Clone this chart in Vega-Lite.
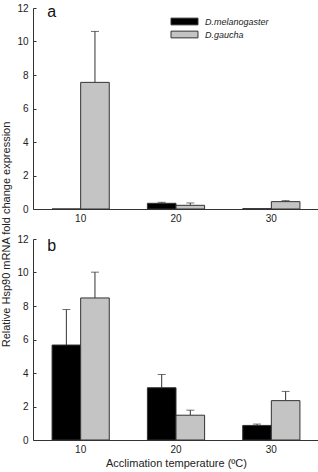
{
  "$schema": "https://vega.github.io/schema/vega-lite/v6.json",
  "padding": {"left": 0, "top": 3, "right": 2, "bottom": 1},
  "bounds": "flush",
  "spacing": 30,
  "config": {
    "font": "Liberation Sans",
    "view": {"stroke": null},
    "axis": {
      "domainColor": "#333",
      "tickColor": "#333",
      "labelColor": "#222",
      "titleColor": "#222",
      "labelFontSize": 10,
      "titleFontSize": 11,
      "titleFontWeight": "normal",
      "grid": false
    },
    "axisY": {
      "tickSize": -3,
      "labelPadding": 8,
      "labelOverlap": false,
      "tickCount": 7
    }
  },
  "datasets": {
    "panelA": [
      {"temp": "10", "species": "D.melanogaster", "value": 0, "upper": null},
      {"temp": "10", "species": "D.gaucha", "value": 7.56, "upper": 10.6},
      {"temp": "20", "species": "D.melanogaster", "value": 0.34, "upper": 0.4},
      {"temp": "20", "species": "D.gaucha", "value": 0.22, "upper": 0.36},
      {"temp": "30", "species": "D.melanogaster", "value": 0.02, "upper": null},
      {"temp": "30", "species": "D.gaucha", "value": 0.44, "upper": 0.5}
    ],
    "panelB": [
      {"temp": "10", "species": "D.melanogaster", "value": 5.67, "upper": 7.79},
      {"temp": "10", "species": "D.gaucha", "value": 8.48, "upper": 10.02},
      {"temp": "20", "species": "D.melanogaster", "value": 3.12, "upper": 3.91},
      {"temp": "20", "species": "D.gaucha", "value": 1.48, "upper": 1.78},
      {"temp": "30", "species": "D.melanogaster", "value": 0.87, "upper": 0.95},
      {"temp": "30", "species": "D.gaucha", "value": 2.35, "upper": 2.9}
    ]
  },
  "resolve": {"legend": {"color": "independent"}},
  "vconcat": [
    {
      "width": 286,
      "height": 201,
      "data": {"name": "panelA"},
      "encoding": {
        "x": {
          "field": "temp", "type": "nominal", "sort": null,
          "scale": {"paddingInner": 0.4, "paddingOuter": 0.2},
          "axis": {"title": null, "labelAngle": 0, "ticks": false, "labelPadding": 4}
        }
      },
      "layer": [
        {
          "mark": {"type": "rule", "color": "#333", "strokeWidth": 1},
          "transform": [{"filter": "datum.upper != null"}],
          "encoding": {
            "xOffset": {"field": "species", "type": "nominal", "sort": ["D.melanogaster", "D.gaucha"]},
            "y": {
              "field": "value", "type": "quantitative",
              "scale": {"domain": [0, 12], "nice": false},
              "axis": {"title": null, "values": [0, 2, 4, 6, 8, 10, 12]}
            },
            "y2": {"field": "upper"}
          }
        },
        {
          "mark": {"type": "tick", "color": "#333", "thickness": 1, "size": 8, "orient": "horizontal"},
          "transform": [{"filter": "datum.upper != null"}],
          "encoding": {
            "xOffset": {"field": "species", "type": "nominal", "sort": ["D.melanogaster", "D.gaucha"]},
            "y": {"field": "upper", "type": "quantitative", "axis": {"title": null, "values": [0, 2, 4, 6, 8, 10, 12]}}
          }
        },
        {
          "mark": {"type": "bar", "stroke": "#333", "strokeWidth": 1},
          "encoding": {
            "xOffset": {"field": "species", "type": "nominal", "sort": ["D.melanogaster", "D.gaucha"]},
            "y": {
              "field": "value", "type": "quantitative",
              "axis": {"title": null, "values": [0, 2, 4, 6, 8, 10, 12]}
            },
            "color": {
              "field": "species", "type": "nominal",
              "sort": ["D.melanogaster", "D.gaucha"],
              "scale": {"range": ["#000000", "#c4c4c4"]},
              "legend": {
                "title": null,
                "orient": "none",
                "legendX": 144,
                "legendY": 6,
                "symbolType": "M-2,-0.5H2V0.5H-2Z",
                "symbolSize": 182,
                "symbolStrokeColor": "#333",
                "symbolStrokeWidth": 1,
                "labelFontSize": 9,
                "labelFontStyle": "italic",
                "labelColor": "#222",
                "rowPadding": 0,
                "labelOffset": 13
              }
            }
          }
        },
        {
          "data": {"values": [{"panel": "a"}]},
          "mark": {"type": "text", "fontSize": 16, "align": "right", "baseline": "alphabetic", "dx": 4, "color": "#111"},
          "encoding": {
            "x": {"datum": "10", "bandPosition": 0},
            "y": {"datum": 11.45},
            "text": {"field": "panel"}
          }
        }
      ]
    },
    {
      "width": 286,
      "height": 201,
      "data": {"name": "panelB"},
      "encoding": {
        "x": {
          "field": "temp", "type": "nominal", "sort": null,
          "scale": {"paddingInner": 0.4, "paddingOuter": 0.2},
          "axis": {"title": "Acclimation temperature (ºC)", "labelAngle": 0, "ticks": false, "labelPadding": 4, "titlePadding": 3}
        }
      },
      "layer": [
        {
          "mark": {"type": "rule", "color": "#333", "strokeWidth": 1},
          "encoding": {
            "xOffset": {"field": "species", "type": "nominal", "sort": ["D.melanogaster", "D.gaucha"]},
            "y": {
              "field": "value", "type": "quantitative",
              "scale": {"domain": [0, 12], "nice": false},
              "axis": {
                "title": "Relative Hsp90 mRNA fold change expression",
                "titleY": -5,
                "titlePadding": 5,
                "values": [0, 2, 4, 6, 8, 10, 12]
              }
            },
            "y2": {"field": "upper"}
          }
        },
        {
          "mark": {"type": "tick", "color": "#333", "thickness": 1, "size": 8, "orient": "horizontal"},
          "encoding": {
            "xOffset": {"field": "species", "type": "nominal", "sort": ["D.melanogaster", "D.gaucha"]},
            "y": {
              "field": "upper", "type": "quantitative",
              "axis": {
                "title": "Relative Hsp90 mRNA fold change expression",
                "titleY": -5,
                "titlePadding": 5,
                "values": [0, 2, 4, 6, 8, 10, 12]
              }
            }
          }
        },
        {
          "mark": {"type": "bar", "stroke": "#333", "strokeWidth": 1},
          "encoding": {
            "xOffset": {"field": "species", "type": "nominal", "sort": ["D.melanogaster", "D.gaucha"]},
            "y": {
              "field": "value", "type": "quantitative",
              "axis": {
                "title": "Relative Hsp90 mRNA fold change expression",
                "titleY": -5,
                "titlePadding": 5,
                "values": [0, 2, 4, 6, 8, 10, 12]
              }
            },
            "color": {
              "field": "species", "type": "nominal",
              "sort": ["D.melanogaster", "D.gaucha"],
              "scale": {"range": ["#000000", "#c4c4c4"]},
              "legend": null
            }
          }
        },
        {
          "data": {"values": [{"panel": "b"}]},
          "mark": {"type": "text", "fontSize": 16, "align": "right", "baseline": "alphabetic", "dx": 4, "color": "#111"},
          "encoding": {
            "x": {"datum": "10", "bandPosition": 0},
            "y": {"datum": 11.3},
            "text": {"field": "panel"}
          }
        }
      ]
    }
  ]
}
